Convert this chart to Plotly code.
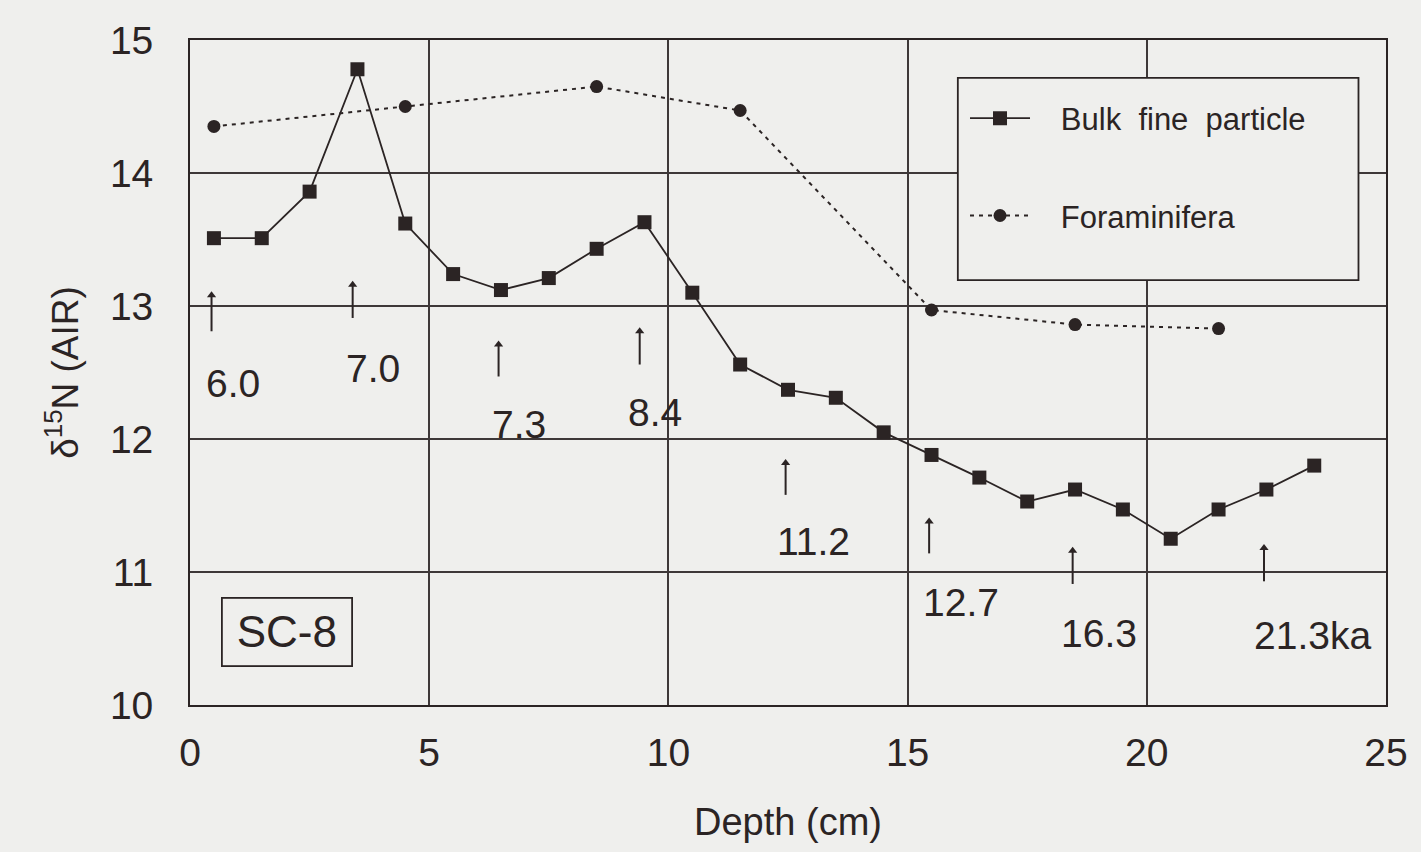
import plotly.graph_objects as go

# ---- data ----
bulk_depth = [0.5, 1.5, 2.5, 3.5, 4.5, 5.5, 6.5, 7.5, 8.5, 9.5, 10.5, 11.5,
              12.5, 13.5, 14.5, 15.5, 16.5, 17.5, 18.5, 19.5, 20.5, 21.5, 22.5, 23.5]
bulk_d15n = [13.51, 13.51, 13.86, 14.78, 13.62, 13.24, 13.12, 13.21, 13.43, 13.63, 13.10, 12.56,
             12.37, 12.31, 12.05, 11.88, 11.71, 11.53, 11.62, 11.47, 11.25, 11.47, 11.62, 11.80]
foram_depth = [0.5, 4.5, 8.5, 11.5, 15.5, 18.5, 21.5]
foram_d15n = [14.35, 14.50, 14.65, 14.47, 12.97, 12.86, 12.83]

age_labels = ["6.0", "7.0", "7.3", "8.4", "11.2", "12.7", "16.3", "21.3ka"]
age_depths = [0.45, 3.4, 6.45, 9.4, 12.45, 15.45, 18.45, 22.45]

# annotation placement (arrow top, arrow bottom, label y, label left x)
arrow_top = [13.11, 13.19, 12.74, 12.84, 11.85, 11.41, 11.19, 11.21]
arrow_bot = [12.81, 12.91, 12.47, 12.56, 11.58, 11.14, 10.91, 10.93]
label_y = [12.42, 12.53, 12.11, 12.20, 11.23, 10.77, 10.54, 10.52]
label_x = [0.29, 3.22, 6.27, 9.11, 12.22, 15.28, 18.16, 22.20]

INK = "#2b2424"
GRID = "#3e3838"
BG = "#efefed"
FONT = "Liberation Sans, Arial, Helvetica, sans-serif"
NB = "\u00a0"

fig = go.Figure()
fig.add_trace(go.Scatter(
    x=bulk_depth, y=bulk_d15n, mode="lines+markers",
    name=NB * 3 + "Bulk" + NB + " fine" + NB + " particle",
    legendgroup="a",
    line=dict(color=INK, width=1.8),
    marker=dict(symbol="square", size=14, color=INK),
))
fig.add_trace(go.Scatter(
    x=foram_depth, y=foram_d15n, mode="lines+markers",
    name=NB * 3 + "Foraminifera",
    legendgroup="b",
    line=dict(color=INK, width=2, dash="4px,5px"),
    marker=dict(symbol="circle", size=13, color=INK),
))

# age arrows: shafts and heads
shaft_x, shaft_y = [], []
head_y = []
for x, yt, yb in zip(age_depths, arrow_top, arrow_bot):
    shaft_x += [x, x, None]
    shaft_y += [yb, yt - 0.03, None]
    head_y.append(yt - 0.03)
fig.add_trace(go.Scatter(
    x=shaft_x, y=shaft_y, mode="lines", showlegend=False, hoverinfo="skip",
    line=dict(color=INK, width=2),
))
fig.add_trace(go.Scatter(
    x=age_depths, y=head_y, mode="markers", showlegend=False, hoverinfo="skip",
    marker=dict(symbol="triangle-up", size=8, color=INK),
))

annotations = []
for txt, x, y in zip(age_labels, label_x, label_y):
    annotations.append(dict(
        x=x, y=y, xref="x", yref="y", text=txt, showarrow=False,
        xanchor="left", yanchor="middle",
        font=dict(family=FONT, size=39, color=INK),
    ))
annotations.append(dict(
    x=2.03, y=10.55, xref="x", yref="y", text="SC-8", showarrow=False,
    xanchor="center", yanchor="middle", width=124, height=62,
    bordercolor=INK, borderwidth=1.8, borderpad=2, bgcolor=BG,
    font=dict(family=FONT, size=44, color=INK),
))

fig.update_layout(
    width=1421, height=852,
    margin=dict(l=190, r=35, t=40, b=147),
    paper_bgcolor=BG, plot_bgcolor=BG,
    font=dict(family=FONT, color=INK),
    annotations=annotations,
    shapes=[dict(
        type="rect", xref="paper", yref="paper",
        x0=0.642, x1=0.977, y0=0.639, y1=0.943,
        line=dict(color=INK, width=1.8), fillcolor=BG, layer="above",
    )],
    showlegend=True,
    legend=dict(
        x=0.648, y=0.9225, xanchor="left", yanchor="top",
        bgcolor="rgba(0,0,0,0)", borderwidth=0,
        font=dict(family=FONT, size=31, color=INK),
        itemwidth=60, tracegroupgap=54,
    ),
)
fig.update_xaxes(
    range=[0, 25], tickvals=[0, 5, 10, 15, 20, 25],
    showgrid=True, gridcolor=GRID, gridwidth=1.5, zeroline=False,
    showline=True, linecolor=INK, linewidth=1.8, mirror=True,
    ticks="outside", ticklen=12, tickcolor="rgba(0,0,0,0)",
    tickfont=dict(family=FONT, size=39, color=INK),
    title=dict(text="Depth (cm)", font=dict(family=FONT, size=38, color=INK), standoff=36),
)
fig.update_yaxes(
    range=[10, 15], tickvals=[10, 11, 12, 13, 14, 15],
    showgrid=True, gridcolor=GRID, gridwidth=1.5, zeroline=False,
    showline=True, linecolor=INK, linewidth=1.8, mirror=True,
    ticks="outside", ticklen=27, tickcolor="rgba(0,0,0,0)",
    tickfont=dict(family=FONT, size=39, color=INK),
    title=dict(text=NB * 3 + "δ<sup>15</sup>N (AIR)", font=dict(family=FONT, size=37, color=INK), standoff=20),
)

fig.write_html(
    "out.html",
    config={"displayModeBar": False},
    post_script="document.body.style.margin='0';document.body.style.background='" + BG + "';",
)
